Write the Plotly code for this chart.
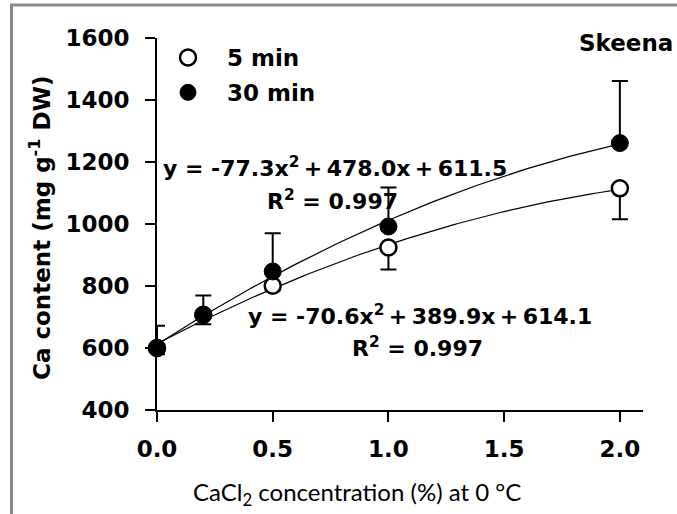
import numpy as np
import plotly.graph_objects as go

# ---- data ----
conc = [0.0, 0.2, 0.5, 1.0, 2.0]
ca_5min = [600, 707, 801, 924, 1115]
ca_5min_err_minus = [20, 30, 15, 71, 100]
ca_30min = [600, 707, 847, 992, 1261]
ca_30min_err_plus = [72, 62, 123, 126, 200]

# trendline coefficients (a, b, c) of y = a x^2 + b x + c as printed on the chart
coef_5min = [-70.6, 389.9, 614.1]
coef_30min = [-77.3, 478.0, 611.5]

x_ticks = [0.0, 0.5, 1.0, 1.5, 2.0]
x_tick_labels = ["0.0", "0.5", "1.0", "1.5", "2.0"]
y_ticks = [400, 600, 800, 1000, 1200, 1400, 1600]

BOLD = "DejaVu Sans"
FS = 23

xs = np.linspace(0, 2, 121)

def quad(c, x):
    return c[0] * x ** 2 + c[1] * x + c[2]

fig = go.Figure()

# trendlines
for c in (coef_5min, coef_30min):
    fig.add_trace(go.Scatter(x=xs, y=quad(c, xs), mode="lines",
                             line=dict(color="black", width=1.2),
                             showlegend=False, hoverinfo="skip"))

fig.add_trace(go.Scatter(
    x=conc, y=ca_5min, mode="markers", name="5 min", legendgroup="a",
    marker=dict(symbol="circle", size=16, color="white",
                line=dict(color="black", width=2.5)),
    error_y=dict(type="data", symmetric=False, array=[0] * len(conc),
                 arrayminus=ca_5min_err_minus, color="black", thickness=2, width=8),
    cliponaxis=False))

fig.add_trace(go.Scatter(
    x=conc, y=ca_30min, mode="markers", name="30 min", legendgroup="b",
    marker=dict(symbol="circle", size=17, color="black",
                line=dict(color="black", width=1)),
    error_y=dict(type="data", symmetric=False, array=ca_30min_err_plus,
                 arrayminus=[0] * len(conc), color="black", thickness=2, width=8),
    cliponaxis=False))

L, R, T, B = 157, 34, 38, 104
PW = 677 - L - R
PH = 514 - T - B

def px(xp):
    return (xp - L) / PW

def py(yp):
    return (T + PH - yp) / PH

ann_font = dict(family=BOLD, size=22, color="black", weight="bold")
annotations = [
    dict(x=px(161), y=py(167), text="y = -77.3x<sup>2</sup>\u2009+\u2009478.0x\u2009+\u2009611.5",
         xanchor="left", yanchor="middle", font=ann_font),
    dict(x=px(265), y=py(200), text="R<sup>2</sup> = 0.997",
         xanchor="left", yanchor="middle", font=ann_font),
    dict(x=px(246), y=py(315), text="y = -70.6x<sup>2</sup>\u2009+\u2009389.9x\u2009+\u2009614.1",
         xanchor="left", yanchor="middle", font=ann_font),
    dict(x=px(350), y=py(347), text="R<sup>2</sup> = 0.997",
         xanchor="left", yanchor="middle", font=ann_font),
    dict(x=px(675), y=py(43), text="Skeena", xanchor="right", yanchor="middle",
         font=dict(family=BOLD, size=FS, color="black", weight="bold")),
    dict(x=px(357), y=py(493), text="CaCl<sub>2</sub> concentration (%) at 0 °C",
         xanchor="center", yanchor="middle",
         font=dict(family="Lato", size=24, color="black")),
    dict(x=px(40), y=py(228), text="Ca content (mg g<sup>-1</sup> DW)", textangle=-90,
         xanchor="center", yanchor="middle",
         font=dict(family=BOLD, size=FS, color="black", weight="bold")),
]
for a in annotations:
    a.update(xref="paper", yref="paper", showarrow=False)

shapes = [
    dict(type="line", xref="paper", yref="paper", x0=px(10), x1=px(690),
         y0=py(5), y1=py(5), line=dict(color="#8a8a8a", width=3), layer="above"),
    dict(type="line", xref="paper", yref="paper", x0=px(11.5), x1=px(11.5),
         y0=py(4), y1=py(530), line=dict(color="#8a8a8a", width=3), layer="above"),
]

fig.update_layout(
    width=677, height=514,
    margin=dict(l=L, r=R, t=T, b=B, autoexpand=False),
    paper_bgcolor="white", plot_bgcolor="white",
    showlegend=True,
    legend=dict(x=px(149), y=py(36), xanchor="left", yanchor="top",
                font=dict(family=BOLD, size=FS, color="black", weight="bold"),
                itemwidth=68, tracegroupgap=2, traceorder="grouped",
                bgcolor="rgba(0,0,0,0)", borderwidth=0),
    annotations=annotations,
    shapes=shapes,
    xaxis=dict(range=[0, 2.1], tickvals=x_ticks, ticktext=x_tick_labels,
               showgrid=False, zeroline=False, showline=True, linecolor="black",
               linewidth=2, ticks="outside", ticklen=10, tickwidth=2,
               tickcolor="black", ticklabelstandoff=7,
               tickfont=dict(family=BOLD, size=FS, color="black", weight="bold")),
    yaxis=dict(range=[400, 1600], tickvals=y_ticks,
               showgrid=False, zeroline=False, showline=True, linecolor="black",
               linewidth=2, ticks="outside", ticklen=10, tickwidth=2,
               tickcolor="black", ticklabelstandoff=11,
               tickfont=dict(family=BOLD, size=FS, color="black", weight="bold")),
)

fig.write_html("out.html", config={"displayModeBar": False},
               post_script="document.body.style.margin='0';document.body.style.overflow='hidden';")
